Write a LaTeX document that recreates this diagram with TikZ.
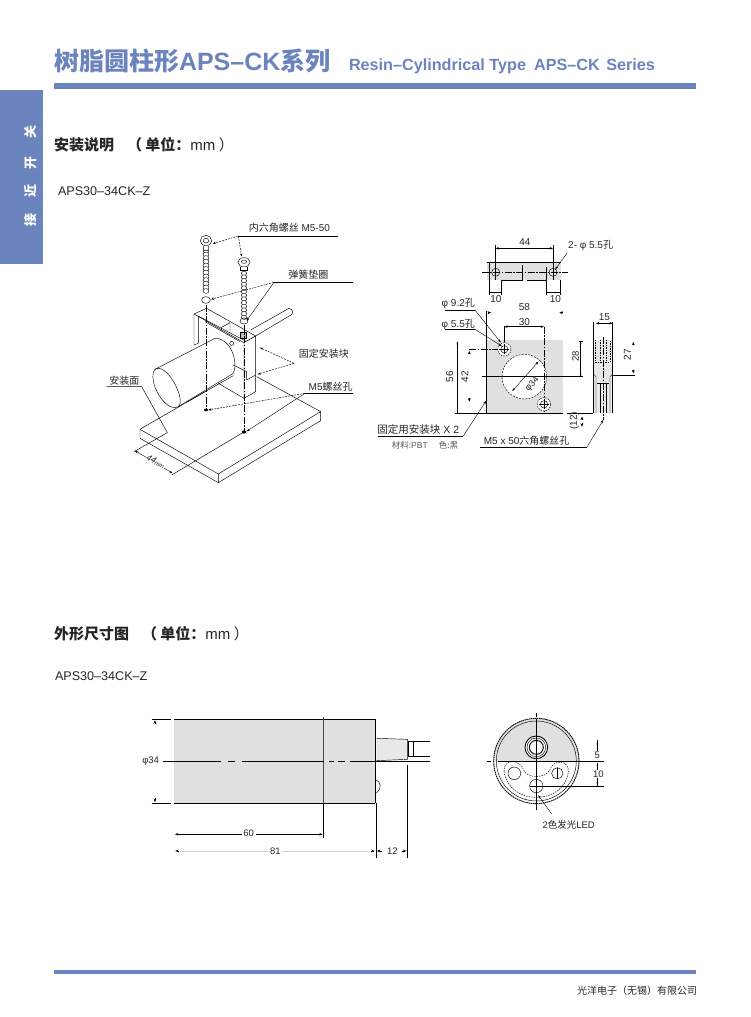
\documentclass[tikz,border=0pt]{standalone}
\usepackage{fontspec}
\setmainfont{Liberation Sans}
\newfontfamily\cjk{Noto Sans CJK SC}
\newcommand{\zh}[1]{{\cjk #1}}
\newcommand{\fs}[1]{\fontsize{#1}{#1}\selectfont}
\definecolor{brand}{HTML}{6B84BE}
\definecolor{panel}{HTML}{E0E0E0}
\definecolor{panelb}{HTML}{E8E8E8}
\usetikzlibrary{arrows.meta}
\tikzset{
 txt/.style={inner sep=0pt,outer sep=0pt,text=black!85},
 ln/.style={draw=black,line width=0.45pt},
 hv/.style={draw=black,line width=0.9pt},
 cen/.style={draw=black,line width=0.45pt,dash pattern=on 7pt off 1.5pt on 1.5pt off 1.5pt},
 dsh/.style={draw=black,line width=0.45pt,dash pattern=on 1.5pt off 1pt},
 arr/.style={-{Stealth[length=3.2pt,width=2.4pt]},draw=black,line width=0.4pt},
 arrb/.style={{Stealth[length=3.2pt,width=2.4pt]}-{Stealth[length=3.2pt,width=2.4pt]},draw=black,line width=0.4pt},
 stub/.style={-{Stealth[length=3.4pt,width=2.8pt]},draw=black,line width=0.4pt},
}
\begin{document}
\begin{tikzpicture}[x=1pt,y=-1pt]
\useasboundingbox (0,0) rectangle (750,1017);
\fill[white] (0,0) rectangle (750,1017);
% header
\node[txt,anchor=base west,text=brand,font=\bfseries\fs{25}] (title) at (54,70.5) {\zh{树脂圆柱形}APS–CK\zh{系列}};
\node[txt,anchor=base west,text=brand,font=\bfseries\fs{16.2}] (titleen) at (349,70.5) {Resin–Cylindrical Type\hspace{0.5em}APS–CK\hspace{0.4em}Series};
\fill[brand] (54,83) rectangle (696,88.5);
\fill[brand] (0,89.5) rectangle (43,263.5);
\node[txt,rotate=90,text=white,font=\bfseries\fs{13}] (s1) at (31,132) {\zh{关}};
\node[txt,rotate=90,text=white,font=\bfseries\fs{13}] (s2) at (31,163) {\zh{开}};
\node[txt,rotate=90,text=white,font=\bfseries\fs{13}] (s3) at (31,191) {\zh{近}};
\node[txt,rotate=90,text=white,font=\bfseries\fs{13}] (s4) at (31,220) {\zh{接}};
\node[txt,anchor=base west,font=\bfseries\fs{15}] (h1) at (54,150) {\zh{安装说明}};
\node[txt,anchor=base west,font=\fs{15}] (h1b) at (127,150) {\bfseries\zh{（ 单位：}\mdseries mm\zh{ ）}};
\node[txt,anchor=base west,font=\fs{12.6}] (m1) at (58,195) {APS30–34CK–Z};
\node[txt,anchor=base west,font=\bfseries\fs{15}] (h2) at (54,639) {\zh{外形尺寸图}};
\node[txt,anchor=base west,font=\fs{15}] (h2b) at (142,639) {\bfseries\zh{（ 单位：}\mdseries mm\zh{ ）}};
\node[txt,anchor=base west,font=\fs{12.6}] (m2) at (55,680) {APS30–34CK–Z};
\fill[brand] (54,970) rectangle (696,973.5);
\node[txt,anchor=base east,font=\fs{10}] (foot) at (697,994) {\zh{光洋电子（无锡）有限公司}};

% ---------- isometric mounting drawing
\begin{scope}[shift={(90,210)},x=0.3333pt,y=-0.3333pt]
 % plate
 \draw[ln] (150,658) -- (345,545);
 \draw[ln] (150,658) -- (385,792) -- (692,605) -- (500,500);
 \draw[ln] (150,658) -- (150,685) -- (385,818) -- (692,632) -- (692,605) (385,792) -- (385,818);
 % cable
 \draw[ln] (482,360) -- (597,295) arc[start angle=-90,end angle=70,radius=11] -- (497,378);
 % cylinder
 \draw[ln,fill=white] (195,478) -- (375,385) .. controls (425,385) and (445,460) .. (430,490) -- (265,590);
 \draw[ln] (195,478) .. controls (170,510) and (225,610) .. (265,590) .. controls (290,570) and (230,455) .. (195,478);
 \draw[ln] (290,577) -- (430,497);
 % block
 \draw[ln] (312,312) -- (312,405) (325,320) -- (325,400) (312,405) -- (325,400);
 \draw[ln,fill=white] (312,312) -- (350,295) -- (497,378) -- (462,398) -- cycle;
 \draw[ln] (325,318) -- (470,395) (345,335) -- (450,395);
 \draw[ln] (395,352) -- (420,338) -- (420,372) (395,352) -- (395,362);
 \draw[ln,fill=white] (462,398) -- (497,378) -- (497,545) -- (462,565) -- cycle;
 \draw[ln] (462,565) -- (385,520) (430,465) -- (470,485) -- (470,510) (470,510) -- (497,495);
 \draw[ln] (425,400) circle[radius=6];
 \draw[ln,fill=black!25] (450,368) rectangle (470,385);
 % screws
 \foreach \y in {122,133,...,252} \draw[ln,fill=white] (348,\y) ellipse[x radius=9,y radius=7];
 \foreach \y in {190,201,...,322} \draw[ln,fill=white] (462,\y) ellipse[x radius=8,y radius=6.5];
 \draw[ln,fill=white] (340,108) -- (342,122) -- (354,122) -- (356,108);
 \draw[ln,fill=white] (348,92) ellipse[x radius=17,y radius=16];
 \draw[ln] (348,92) ellipse[x radius=8,y radius=7];
 \draw[ln,fill=white] (462,157) ellipse[x radius=18,y radius=14];
 \draw[ln] (462,155) ellipse[x radius=8,y radius=5];
 \draw[ln,fill=white] (452,170) -- (452,182) -- (472,182) -- (472,170);
 \draw[ln] (348,270) ellipse[x radius=13,y radius=10];
 \draw[ln] (462,333) ellipse[x radius=12,y radius=9];
 \draw[cen] (348,285) -- (348,600) (462,345) -- (462,665);
 \fill (348,600) ellipse[x radius=6,y radius=4];
 \fill (462,666) ellipse[x radius=7,y radius=5];
 % labels + leaders
 \node[txt,font=\fs{10}] (l1) at (598,54) {\zh{内六角螺丝} M5-50};
 \coordinate (l1a) at (745,78); \coordinate (l1b) at (445,78);
 \draw[ln] (l1a) -- (l1b);
 \draw[ln,dash pattern=on 2pt off 1pt,-{Stealth[length=3.2pt,width=2.4pt]}] (l1b) -- (368,101);
 \draw[ln,dash pattern=on 2pt off 1pt,-{Stealth[length=3.2pt,width=2.4pt]}] (l1b) -- (455,140);
 \node[txt,font=\fs{10}] (l2) at (655,195) {\zh{弹簧垫圈}};
 \coordinate (l2a) at (790,217); \coordinate (l2b) at (552,217);
 \draw[ln] (l2a) -- (l2b);
 \draw[ln,dash pattern=on 2pt off 1pt,-{Stealth[length=3.2pt,width=2.4pt]}] (l2b) -- (363,268);
 \draw[arr] (l2b) -- (470,332);
 \node[txt,font=\fs{10}] (l3) at (702,430) {\zh{固定安装块}};
 \coordinate (l3b) at (612,460);
 \draw[ln,dash pattern=on 2pt off 1pt,-{Stealth[length=3.2pt,width=2.4pt]}] (l3b) -- (510,413);
 \draw[ln,dash pattern=on 2pt off 1pt,-{Stealth[length=3.2pt,width=2.4pt]}] (l3b) -- (503,493);
 \node[txt,font=\fs{10}] (l4) at (722,530) {M5\zh{螺丝孔}};
 \coordinate (l4a) at (790,550); \coordinate (l4b) at (645,550);
 \draw[ln] (l4a) -- (l4b);
 \draw[ln,dash pattern=on 2pt off 1pt,-{Stealth[length=3.2pt,width=2.4pt]}] (l4b) -- (355,600);
 \draw[arr] (l4b) -- (470,664);
 \node[txt,font=\fs{10}] (l5) at (103,511) {\zh{安装面}};
 \coordinate (l5a) at (50,530); \coordinate (l5b) at (155,530);
 \draw[ln] (l5a) -- (l5b) -- (232,668);
 % 44 dimension
 \draw[ln] (232,668) -- (132,725) (462,666) -- (245,795);
 \draw[arrb] (135,722) -- (248,790);
 \node[txt,rotate=-30,font=\itshape\fs{9},fill=white,inner sep=0.5pt] (l6) at (197,755) {44\fs{6}mm};
\end{scope}

% ---------- bracket views
\begin{scope}[shift={(370,220)},x=0.3333pt,y=-0.3333pt]
 \fill[panel] (350,128) rectangle (573,180);
 \draw[hv] (350,128) -- (573,128);
 \draw[ln] (395,180) -- (458,180) -- (458,135) (470,180) -- (530,180);
 \draw[cen] (335,157) -- (595,157);
 \draw[ln] (377,157) circle[radius=12] (549,157) circle[radius=12];
 \draw[ln] (377,75) -- (377,180) (549,75) -- (549,180);
 \draw[arrb] (377,85) -- (549,85);
 \node[txt,font=\fs{10}] (t44) at (465,67) {44};
 \draw[hv] (358,130) -- (358,225) (530,140) -- (530,225);
 \draw[ln] (395,180) -- (395,225) (571,180) -- (571,225);
 \draw[ln] (358,217) -- (395,217) (530,217) -- (571,217);
 \node[txt,font=\fs{10}] (t10a) at (378,236) {10};
 \node[txt,font=\fs{10}] (t10b) at (556,236) {10};
 \node[txt,font=\fs{10}] (t2) at (662,77) {2- φ 5.5\zh{孔}};
 \coordinate (t2a) at (592,98); \coordinate (t2b) at (556,148);
 \draw[arr] (t2a) -- (t2b);
 % front view
 \fill[panel] (350,360) rectangle (578,580);
 \draw[hv] (348,272) -- (348,580);
 \draw[hv] (255,580) -- (578,580);
 \draw[ln] (262,365) -- (262,580);
 \fill (262,365) -- +(-2.5,8) -- +(2.5,8) -- cycle;
 \draw[stub] (353,278) -- (363,278);
 \draw[stub] (578,278) -- (568,278);
 \node[txt,font=\fs{10}] (t58) at (463,262) {58};
 \draw[arrb] (403,320) -- (522,320);
 \node[txt,font=\fs{10}] (t30) at (463,305) {30};
 \draw[ln] (403,318) -- (403,370);
 \draw[fill=white,ln,dash pattern=on 2pt off 1.2pt] (463,470) circle[radius=67];
 \draw[cen] (522,320) -- (522,575);
 \fill[white] (403,388) circle[radius=20] (522,553) circle[radius=20];
 \draw[dsh] (403,388) circle[radius=20] (522,553) circle[radius=20];
 \draw[ln] (403,388) circle[radius=11] (522,553) circle[radius=11];
 \draw[ln] (388,388) -- (418,388) (403,373) -- (403,403) (522,538) -- (522,568) (507,553) -- (537,553);
 \draw[hv] (335,470) -- (640,470);
 \draw[arrb] (427,513) -- (505,425);
 \node[txt,rotate=48,font=\fs{9}] (t34) at (487,493) {φ34};
 \draw[cen] (298,388) -- (385,388);
 \draw[stub] (298,403) -- (298,393);
 \draw[stub] (298,535) -- (298,545);
 \node[txt,rotate=90,font=\fs{10}] (t56) at (239,470) {56};
 \node[txt,rotate=90,font=\fs{10}] (t42) at (285,470) {42};
 \draw[ln] (632,365) -- (632,470) (628,365) -- (640,365);
 \fill (632,470) -- +(-2.5,-8) -- +(2.5,-8) -- cycle;
 \fill (632,365) -- +(-2.5,8) -- +(2.5,8) -- cycle;
 \node[txt,rotate=90,font=\fs{9.5}] (t28) at (617,410) {28};
 % side view
 \fill[panelb] (670,360) rectangle (728,580);
 \draw[hv] (590,580) -- (668,580);
 \draw[dsh] (677,360) -- (677,428) -- (720,428) -- (720,360);
 \draw[ln] (670,360) -- (670,580) (728,360) -- (728,580);
 \draw[ln] (670,462) -- (678,470) -- (678,580) (728,462) -- (720,470) -- (720,580);
 \draw[ln] (682,490) -- (718,490);
 \draw[dsh] (690,360) -- (690,430) (710,360) -- (710,430);
 \draw[ln] (690,490) -- (690,580) (710,490) -- (710,580);
 \draw[cen] (700,350) -- (700,600);
 \draw[ln] (670,305) -- (670,360) (728,305) -- (728,360);
 \draw[arrb] (678,310) -- (728,310);
 \node[txt,font=\fs{10}] (t15) at (703,290) {15};
 \draw[ln] (728,465) -- (795,465);
 \draw[stub] (790,376) -- (790,366);
 \draw[stub] (790,450) -- (790,460);
 \node[txt,rotate=90,font=\fs{10}] (t27) at (772,405) {27};
 \draw[stub] (636,600) -- (636,590);
 \draw[stub] (636,610) -- (636,620);
 \node[txt,rotate=90,font=\fs{10}] (t12) at (613,602) {(12)};
 % leaders
 \node[txt,font=\fs{10}] (n1) at (265,250) {φ 9.2\zh{孔}};
 \coordinate (n1a) at (225,270); \coordinate (n1b) at (315,270);
 \draw[ln] (n1a) -- (n1b);
 \draw[arr] (n1b) -- (392,367);
 \node[txt,font=\fs{10}] (n2) at (265,313) {φ 5.5\zh{孔}};
 \coordinate (n2a) at (225,328); \coordinate (n2b) at (315,328);
 \draw[ln] (n2a) -- (n2b);
 \draw[arr] (n2b) -- (395,378);
 \node[txt,font=\fs{10.5}] (n3) at (145,628) {\zh{固定用安装块} X 2};
 \coordinate (n3a) at (25,648); \coordinate (n3b) at (280,648);
 \draw[ln] (n3a) -- (n3b);
 \draw[arr] (n3b) -- (348,543);
 \node[txt,font=\fs{8.5},text=black!65] (n4) at (165,677) {\zh{材料}:PBT\hspace{1.3em}\zh{色:黑}};
 \node[txt,font=\fs{10}] (n5) at (470,663) {M5 x 50\zh{六角螺丝孔}};
 \coordinate (n5a) at (330,683); \coordinate (n5b) at (650,683);
 \draw[ln] (n5a) -- (n5b);
 \draw[arr] (n5b) -- (700,600);
\end{scope}

% ---------- outline, side
\begin{scope}[shift={(130,700)},x=0.3333pt,y=-0.3333pt]
 \fill[panel] (132,57) rectangle (735,310);
 \draw[hv] (65,57) -- (122,57) (132,57) -- (735,57) (65,310) -- (122,310) (132,310) -- (735,310);
 \draw[hv] (735,57) -- (735,310);
 \draw[draw=black!70,line width=1.2pt] (580,50) -- (580,310);
 \draw[ln] (580,310) -- (580,415);
 \draw[hv] (100,184) -- (272,184) (295,184) -- (315,184) (335,184) -- (583,184) (598,184) -- (612,184) (625,184) -- (645,184) (660,184) -- (900,184);
 \node[txt,font=\fs{9.5}] (o34) at (62,183) {φ34};
 \draw[stub] (75,73) -- (75,61);
 \draw[stub] (75,294) -- (75,306);
 % gland and cable
 \fill[panelb] (740,115) -- (832,118) -- (832,178) -- (740,182) -- cycle;
 \draw[ln] (740,115) -- (832,118) -- (832,178) -- (740,182);
 \draw[ln] (835,125) -- (900,125) (835,125) -- (835,168) (850,125) -- (850,168) (835,168) -- (900,168);
 \draw[ln] (738,240) .. controls (750,245) and (760,262) .. (738,280);
 % dims
 \draw[ln] (738,310) -- (738,475) (832,195) -- (832,475);
 \draw[arr] (336,403) -- (135,403);
 \draw[arr] (378,403) -- (578,403);
 \node[txt,font=\fs{9.5}] (o60) at (356,401) {60};
 \draw[draw=black!18,line width=0.4pt] (150,453) -- (720,453);
 \draw[stub] (148,453) -- (136,453);
 \draw[stub] (722,453) -- (734,453);
 \node[txt,font=\fs{9.5},fill=white,inner sep=1pt] (o81) at (436,453) {81};
 \draw[stub] (755,453) -- (741,453);
 \draw[stub] (815,453) -- (829,453);
 \node[txt,font=\fs{9.5}] (o12) at (787,453) {12};
\end{scope}

% ---------- outline, end
\begin{scope}[shift={(470,700)},x=0.3333pt,y=-0.3333pt]
 \fill[panel] (71,183) arc[start angle=180,end angle=360,radius=128] -- cycle;
 \draw[draw=black,line width=0.9pt,dash pattern=on 1.5pt off 0.6pt] (199,183) circle[radius=128];
 \draw[ln] (199,183) circle[radius=120];
 \fill[white] (199,142) circle[radius=35];
 \draw[hv] (199,142) circle[radius=34];
 \draw[ln] (199,142) circle[radius=28];
 \draw[hv] (199,142) circle[radius=21];
 \draw[dsh] (102,215) .. controls (100,175) and (150,175) .. (162,212) .. controls (172,235) and (226,235) .. (238,212) .. controls (250,175) and (298,180) .. (295,215) .. controls (290,262) and (250,292) .. (199,292) .. controls (148,292) and (110,262) .. (102,215) -- cycle;
 \draw[ln] (133,220) circle[radius=19] (262,220) circle[radius=17];
 \draw[hv] (262,203) -- (262,237);
 \draw[ln] (199,258) circle[radius=20];
 \draw[hv] (85,183) -- (403,183) (50,183) -- (62,183);
 \draw[ln] (199,58) -- (199,330);
 \draw[ln] (199,38) -- (199,50);
 \draw[ln] (180,258) -- (403,258);
 \draw[ln] (382,120) -- (382,178) (382,190) -- (382,258);
 \fill (382,178) -- +(-2.5,-8) -- +(2.5,-8) -- cycle;
 \fill (382,138) -- +(-2.5,-8) -- +(2.5,-8) -- cycle;
 \fill (382,188) -- +(-2.5,8) -- +(2.5,8) -- cycle;
 \fill (382,256) -- +(-2.5,-8) -- +(2.5,-8) -- cycle;
 \node[txt,font=\fs{9.5},fill=white,inner sep=0.5pt] (e5) at (382,165) {5};
 \node[txt,font=\fs{9.5},fill=white,inner sep=0.5pt] (e10) at (385,222) {10};
 \node[txt,font=\fs{9.5}] (e2) at (296,375) {2\zh{色发光}LED};
 \coordinate (e2a) at (245,342); \coordinate (e2b) at (205,286);
 \draw[arr] (e2a) -- (e2b);
\end{scope}
\end{tikzpicture}
\end{document}
